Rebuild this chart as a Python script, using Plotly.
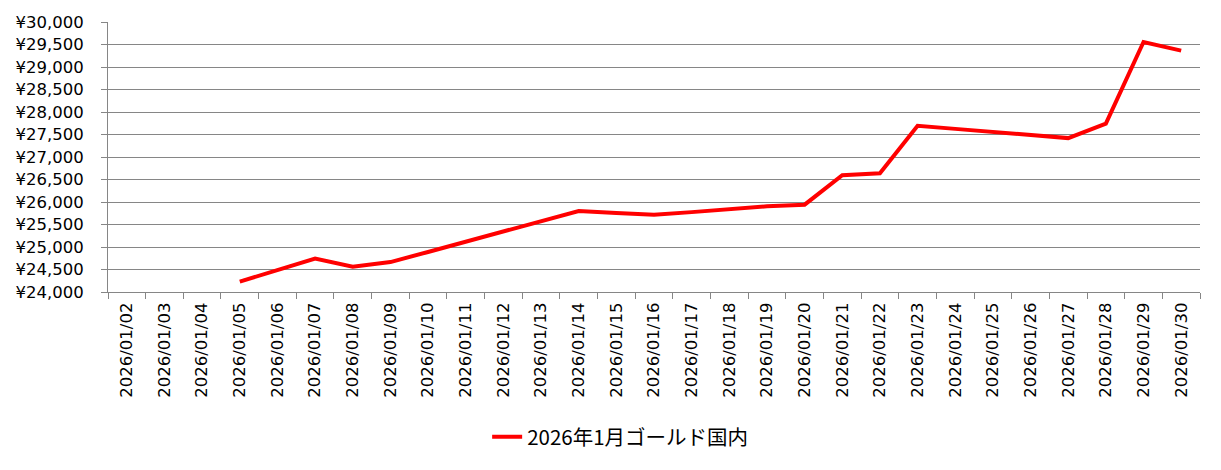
import plotly.graph_objects as go

dates = ["2026/01/%02d" % d for d in range(2, 31)]
prices = [None, None, None,
          24230, 24490, 24745, 24560, 24665,
          24890, 25115, 25340, 25565, 25800,
          25753, 25715, 25775, 25840, 25905, 25940,
          26595, 26638, 27695, 27625, 27553, 27482,
          27420, 27740, 29555, 29365]
series_name = "2026年1月ゴールド国内"

grid = "#868686"
font_main = "DejaVu Sans, Noto Sans CJK JP"

fig = go.Figure()
fig.add_trace(go.Scatter(x=dates, y=prices, mode="lines", name=series_name,
                         line=dict(color="#FF0000", width=4),
                         connectgaps=False))

# page body has an 8px margin, so margins are shifted by 8
fig.update_layout(
    width=1221, height=470,
    margin=dict(l=100, r=29, t=14, b=186),
    plot_bgcolor="white", paper_bgcolor="white",
    font=dict(family=font_main, size=16.5, color="black"),
    showlegend=True,
    legend=dict(orientation="h", x=0.469, xanchor="center",
                y=-0.537, yanchor="middle",
                font=dict(family="Noto Sans CJK JP, DejaVu Sans", size=20.5)),
)
fig.update_xaxes(type="category", range=[-0.5, len(dates) - 0.5],
                 tickangle=-90, ticks="outside", tickson="boundaries",
                 ticklen=6, tickcolor=grid, showline=True, linecolor=grid, linewidth=1,
                 showgrid=False, ticklabelstandoff=3, automargin=False)
fig.update_yaxes(range=[24000, 30000], dtick=500, tickprefix="¥", tickformat=",",
                 ticks="outside", ticklen=6, tickcolor=grid, showline=True, linecolor=grid,
                 linewidth=1, showgrid=True, gridcolor=grid, gridwidth=1,
                 zeroline=False, ticklabelstandoff=14, automargin=False)

fig.write_html("out.html")
